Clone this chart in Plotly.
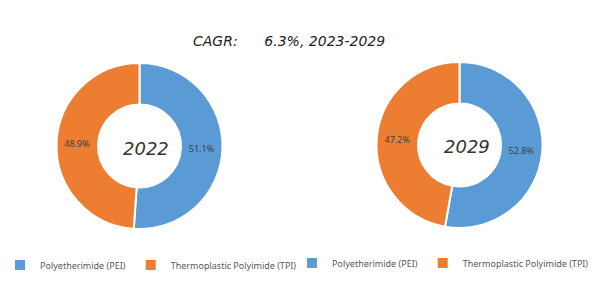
import plotly.graph_objects as go

labels = ["Polyetherimide (PEI)", "Thermoplastic Polyimide (TPI)"]
values_2022 = [51.1, 48.9]
values_2029 = [52.8, 47.2]
years = ["2022", "2029"]
title_text = "CAGR:      6.3%, 2023-2029"

colors = ["#5B9BD5", "#ED7D31"]
W, H = 600, 284

def dom(cx, cy, r):
    return dict(x=[(cx - r) / W, (cx + r) / W],
                y=[(H - cy - r) / H, (H - cy + r) / H])

# second pie gets its own legend: make its labels distinct keys (zero-width space)
labels_2029 = [l + "\u200b" for l in labels]

fig = go.Figure()
fig.add_trace(go.Pie(
    labels=labels, values=values_2022, hole=0.5, sort=False,
    direction="clockwise", rotation=0,
    marker=dict(colors=colors, line=dict(color="white", width=2)),
    texttemplate="%{value:.1f}%", textposition="inside",
    insidetextorientation="horizontal",
    textfont=dict(size=9, color="#404040", family="Noto Sans"),
    domain=dom(139.5, 146, 83), legend="legend", hoverinfo="label+value",
))
fig.add_trace(go.Pie(
    labels=labels_2029, values=values_2029, hole=0.5, sort=False,
    direction="clockwise", rotation=0,
    marker=dict(colors=colors, line=dict(color="white", width=2)),
    texttemplate="%{value:.1f}%", textposition="inside",
    insidetextorientation="horizontal",
    textfont=dict(size=9, color="#404040", family="Noto Sans"),
    domain=dom(459.5, 145, 83), legend="legend2", hoverinfo="label+value",
))

leg_common = dict(orientation="h", xanchor="left", yanchor="middle",
                  font=dict(size=9, color="#595959", family="Noto Sans"),
                  itemwidth=30, tracegroupgap=0, bgcolor="rgba(0,0,0,0)")
fig.update_layout(
    width=W, height=H, margin=dict(l=0, r=0, t=0, b=0),
    paper_bgcolor="white", plot_bgcolor="white",
    showlegend=True,
    legend=dict(x=0, y=(H - 265) / H, **leg_common),
    legend2=dict(x=292 / W, y=(H - 263) / H, **leg_common),
    annotations=[
        dict(text=title_text, x=289 / W, y=(H - 41) / H, xref="paper", yref="paper",
             xanchor="center", yanchor="middle", showarrow=False,
             font=dict(size=14, style="italic", family="DejaVu Sans", color="#222222")),
        dict(text=years[0], x=146 / W, y=(H - 148) / H, xref="paper", yref="paper",
             xanchor="center", yanchor="middle", showarrow=False,
             font=dict(size=18, style="italic", family="DejaVu Sans", color="#333333")),
        dict(text=years[1], x=467 / W, y=(H - 146) / H, xref="paper", yref="paper",
             xanchor="center", yanchor="middle", showarrow=False,
             font=dict(size=18, style="italic", family="DejaVu Sans", color="#333333")),
    ],
)
fig.write_html("out.html")
